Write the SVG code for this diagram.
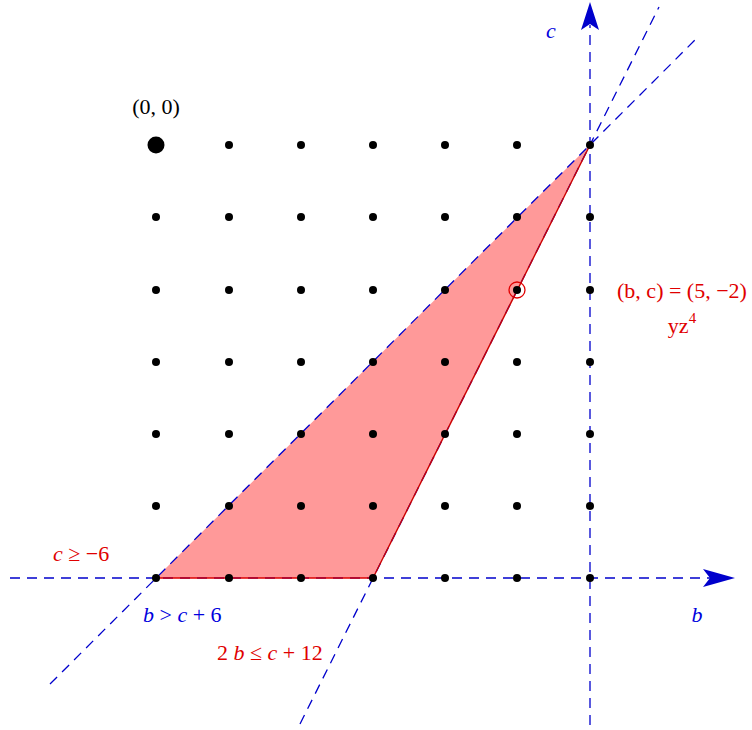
<svg xmlns="http://www.w3.org/2000/svg" width="752" height="730" viewBox="0 0 752 730">
<style>
.ax{stroke:#0000cc;stroke-width:1.3;stroke-dasharray:10,7;fill:none}
.dot{fill:#000}
text{font-family:"Liberation Serif","Times New Roman",serif;font-size:22px}
.red{fill:#e00000}
.blue{fill:#0000dd}
.it{font-style:italic}
</style>
<rect width="752" height="730" fill="#fff"/>
<g id="region">
<polygon points="156,578 373,578 590,145" fill="#ff9999"/>
</g>
<g id="connectors">
<line class="ax" x1="10" y1="578" x2="712" y2="578"/>
<line class="ax" x1="590" y1="725" x2="590" y2="25"/>
<line class="ax" x1="50" y1="684" x2="698" y2="37"/>
<line class="ax" x1="300" y1="724" x2="659" y2="7"/>
<path d="M735,578 L703,569 L710,578 L703,587 Z" fill="#0000cc"/>
<path d="M590,2 L581,30 L590,24 L599,30 Z" fill="#0000cc"/>
</g>
<g id="region-edges">
<line x1="156" y1="578" x2="373" y2="578" stroke="#dd0000" stroke-width="1.4"/>
<line x1="373" y1="578" x2="590" y2="145" stroke="#cc0000" stroke-width="1.4"/>
</g>
<g id="dots">
<circle cx="156" cy="145" r="8.5" class="dot"/>
<g class="dot">
<circle cx="229" cy="145" r="4"/><circle cx="301" cy="145" r="4"/><circle cx="373" cy="145" r="4"/><circle cx="445" cy="145" r="4"/><circle cx="517" cy="145" r="4"/><circle cx="590" cy="145" r="4"/>
<circle cx="156" cy="217" r="4"/><circle cx="229" cy="217" r="4"/><circle cx="301" cy="217" r="4"/><circle cx="373" cy="217" r="4"/><circle cx="445" cy="217" r="4"/><circle cx="517" cy="217" r="4"/><circle cx="590" cy="217" r="4"/>
<circle cx="156" cy="290" r="4"/><circle cx="229" cy="290" r="4"/><circle cx="301" cy="290" r="4"/><circle cx="373" cy="290" r="4"/><circle cx="445" cy="290" r="4"/><circle cx="517" cy="290" r="4"/><circle cx="590" cy="290" r="4"/>
<circle cx="156" cy="362" r="4"/><circle cx="229" cy="362" r="4"/><circle cx="301" cy="362" r="4"/><circle cx="373" cy="362" r="4"/><circle cx="445" cy="362" r="4"/><circle cx="517" cy="362" r="4"/><circle cx="590" cy="362" r="4"/>
<circle cx="156" cy="434" r="4"/><circle cx="229" cy="434" r="4"/><circle cx="301" cy="434" r="4"/><circle cx="373" cy="434" r="4"/><circle cx="445" cy="434" r="4"/><circle cx="517" cy="434" r="4"/><circle cx="590" cy="434" r="4"/>
<circle cx="156" cy="506" r="4"/><circle cx="229" cy="506" r="4"/><circle cx="301" cy="506" r="4"/><circle cx="373" cy="506" r="4"/><circle cx="445" cy="506" r="4"/><circle cx="517" cy="506" r="4"/><circle cx="590" cy="506" r="4"/>
<circle cx="156" cy="578" r="4"/><circle cx="229" cy="578" r="4"/><circle cx="301" cy="578" r="4"/><circle cx="373" cy="578" r="4"/><circle cx="445" cy="578" r="4"/><circle cx="517" cy="578" r="4"/><circle cx="590" cy="578" r="4"/>
</g>
<circle cx="517" cy="290" r="8" fill="none" stroke="#e00000" stroke-width="1.3"/>
</g>
<g id="labels">
<text x="156" y="114" text-anchor="middle">(0, 0)</text>
<text x="551" y="38" class="blue it" text-anchor="middle">c</text>
<text x="697" y="622" class="blue it" text-anchor="middle">b</text>
<text x="682" y="298" class="red" text-anchor="middle">(b, c) = (5, −2)</text>
<text x="682" y="333" class="red" text-anchor="middle">yz<tspan dy="-10" font-size="15">4</tspan></text>
<text x="53" y="561" class="red"><tspan class="it">c</tspan> ≥ −6</text>
<text x="143" y="622" class="blue"><tspan class="it">b</tspan> &gt; <tspan class="it">c</tspan> + 6</text>
<text x="217" y="660" class="red">2 <tspan class="it">b</tspan> ≤ <tspan class="it">c</tspan> + 12</text>
</g>
</svg>
